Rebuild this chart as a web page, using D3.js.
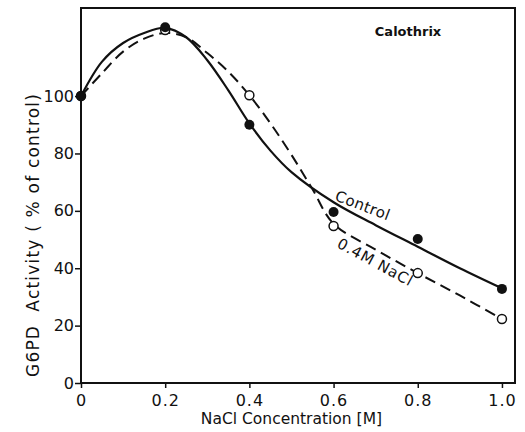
<!DOCTYPE html>
<html>
<head>
<meta charset="utf-8">
<script src="https://d3js.org/d3.v7.min.js"></script>
<style>
  body { margin: 0; background: #fff; }
  text { font-family: "DejaVu Sans", sans-serif; fill: #111; }
</style>
</head>
<body>
<script>
// Set dimensions
const width  = 525;
const height = 432;
const margin = { top: 8, right: 10, bottom: 49, left: 81 };

// Measured points
const conc        = [0, 0.2, 0.4, 0.6, 0.8, 1.0];
const controlVals = [100, 124, 90, 59.6, 50.2, 32.8];
const naclVals    = [100, 123, 100.3, 54.7, 38.3, 22.3];

// Hand-drawn fitted curves (knots)
const controlCurveX = [0, 0.05, 0.1, 0.15, 0.2, 0.25, 0.3, 0.35, 0.4, 0.45, 0.5, 0.6, 0.7, 0.8, 0.9, 1.0];
const controlCurveY = [100, 112, 118.5, 122, 123.8, 120.5, 112.5, 102, 90.5, 81, 73.5, 63, 55, 47.5, 40, 33];
const naclCurveX    = [0, 0.05, 0.1, 0.15, 0.2, 0.25, 0.3, 0.35, 0.4, 0.45, 0.5, 0.55, 0.6, 0.7, 0.8, 0.9, 1.0];
const naclCurveY    = [100, 108, 115.5, 120, 122, 120.5, 115, 108.5, 100.3, 90.5, 79.5, 67.5, 55.5, 46.5, 38.3, 30.5, 22.3];

const xTicks = [0, 0.2, 0.4, 0.6, 0.8, 1.0];
const xTickLabels = ["0", "0.2", "0.4", "0.6", "0.8", "1.0"];
const yTicks = [0, 20, 40, 60, 80, 100];

const svg = d3.select("body").append("svg")
  .attr("width", width)
  .attr("height", height);

const g = svg.append("g")
  .attr("transform", `translate(${margin.left},${margin.top})`);

const w = width - margin.left - margin.right;
const h = height - margin.top - margin.bottom;

const x = d3.scaleLinear().domain([0, 1.031]).range([0, w]);
const y = d3.scaleLinear().domain([0, 130.7]).range([h, 0]);

// frame
g.append("rect")
  .attr("width", w).attr("height", h)
  .attr("fill", "none").attr("stroke", "#111").attr("stroke-width", 2);

// x axis
const xAxis = g.append("g")
  .attr("transform", `translate(0,${h})`)
  .call(d3.axisBottom(x).tickValues(xTicks).tickSize(5).tickPadding(7)
    .tickFormat((d, i) => xTickLabels[i]));
xAxis.select(".domain").remove();
xAxis.selectAll("line").attr("stroke", "#111").attr("stroke-width", 1.5);
xAxis.selectAll("text").style("font-size", "16px").style("font-family", "'DejaVu Sans', sans-serif")
  .style("letter-spacing", "1px");

// y axis
const yAxis = g.append("g")
  .call(d3.axisLeft(y).tickValues(yTicks).tickSize(6).tickPadding(1));
yAxis.select(".domain").remove();
yAxis.selectAll("line").attr("stroke", "#111").attr("stroke-width", 1.5);
yAxis.selectAll("text").style("font-size", "16px").style("font-family", "'DejaVu Sans', sans-serif");

// axis titles
svg.append("text")
  .attr("x", margin.left + x(0.5))
  .attr("y", 424)
  .attr("text-anchor", "middle")
  .style("font-size", "15.5px")
  .text("NaCl Concentration [M]");

svg.append("text")
  .attr("transform", `translate(39,${margin.top + y(51.6)}) rotate(-90)`)
  .attr("text-anchor", "middle")
  .style("font-size", "17px")
  .style("letter-spacing", "1.2px")
  .attr("xml:space", "preserve")
  .text("G6PD  Activity ( % of control)");

// curves
const line = d3.line()
  .x(d => x(d[0]))
  .y(d => y(d[1]))
  .curve(d3.curveCatmullRom.alpha(0.5));

g.append("path")
  .datum(d3.zip(controlCurveX, controlCurveY))
  .attr("fill", "none")
  .attr("stroke", "#111")
  .attr("stroke-width", 2.2)
  .attr("d", line);

g.append("path")
  .datum(d3.zip(naclCurveX, naclCurveY))
  .attr("fill", "none")
  .attr("stroke", "#111")
  .attr("stroke-width", 2)
  .attr("stroke-dasharray", "11,6")
  .attr("d", line);

// points (open first, filled drawn on top)
g.selectAll(".nacl")
  .data(d3.zip(conc, naclVals))
  .enter().append("circle")
  .attr("cx", d => x(d[0]))
  .attr("cy", d => y(d[1]))
  .attr("r", 4.5)
  .attr("fill", "#fff")
  .attr("stroke", "#111")
  .attr("stroke-width", 1.5);

g.selectAll(".ctl")
  .data(d3.zip(conc, controlVals))
  .enter().append("circle")
  .attr("cx", d => x(d[0]))
  .attr("cy", d => y(d[1]))
  .attr("r", 5)
  .attr("fill", "#111");

// labels
g.append("text")
  .attr("x", x(0.698)).attr("y", y(121))
  .style("font-size", "13px")
  .style("font-weight", "bold")
  .text("Calothrix");

g.append("text")
  .attr("transform", `translate(${x(0.601)},${y(63.8)}) rotate(21)`)
  .style("font-size", "15px")
  .style("letter-spacing", "0.5px")
  .text("Control");

g.append("text")
  .attr("transform", `translate(${x(0.606)},${y(47.5)}) rotate(28.5)`)
  .style("font-size", "15px")
  .style("letter-spacing", "0.8px")
  .text("0.4M NaCl");
</script>
</body>
</html>
